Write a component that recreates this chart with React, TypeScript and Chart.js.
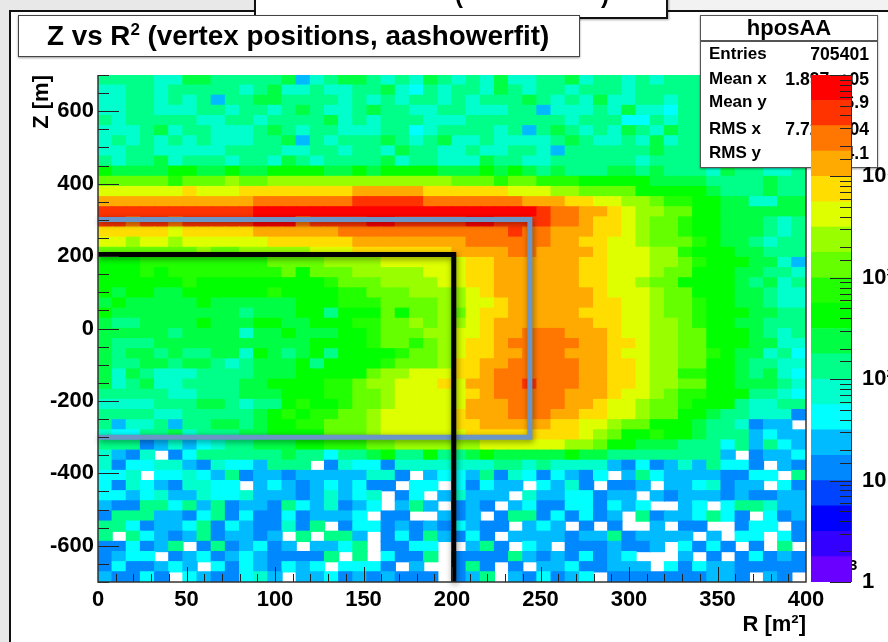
import React, { useEffect, useRef } from "react";
import { Chart, registerables } from "chart.js";

Chart.register(...registerables);

// Heat-map cell levels, one string per Z row (top to bottom), one base-20 digit per R bin; "." = empty bin.
const rowsUpperHalo = [
  "8888 77 99 88888 9 5 7 8 99 8 7  8 7 9 8 7 8 7 9 77 88 9 7 88 7 8 7 8 8  88888888",
  "77 88 7 88888 7 8 9 77 8 77 8 8 9  7 6 8 7 88 7 9 8 7 88 7 888 7 888 8  88888888",
  "77 88 7 8 7 8 5 88 99 8888 7 8 7 8  7 88 7 8 7 888 9 8 7 8 7 9 77 88 7 8 88888888",
  "77 88 777 88 7 88 7 8 9 8 77 8 9 8  8 77 88 777 88 5 777 8 7 9 77 6 8 88888888",
  "8 7 88888 77 88 7 8888 9 7 8 7 8  88 777 8888888 7 888 66 8 7 8 88888888",
  "777 8 9 7 88 777 8 9 8 7 88 777 8  8 6 7 8888 7 8 5 8 9 8 7 8 7 9 8 7 9 8 88888888",
  "7 8 7 8 7 8 7 8 777 88 9 5 8 7 888 9  8 7 8 9 77 8 7777 8 9 8 77 8 7 9 7 8 88888888",
  "77 88 77777 8888 77 88 7 88 7  9 88 77 8 77 88 7 5 888888 9 8 8 88888888",
  "8 7 88 9 7 888 7 88 7 9 8 7 8888 9  7 88 777 9 88 77 888888 7 88 8 88888888",
  "a 9999 aa 99 a 99 aaaa 99 a 9 a  aaa 999 a 9 a 9 8 9 888 99 8 9 8 8  8 7 9 88 77 8",
];

const rowsUpperBand = [
  "ccccc b ccc d cc ddddddddd dddd ccc b cc bbb aaaaa 9999 8888988",
  "eeeeee f eee ffffffff ggggg ffffff eee dd cccc aaaaa 9 888 9 88",
  "ggggggggggg hhhhhhh iiiii hhhhhhh ggg ff ee dd c bb aa 99 77 99",
  "iiiiiiiiiii jjjjjjjjjjjjjjjjjjjj i hh gg f e dd cc aa 999999",
  "ii h ii h iiiii jjj h iiii jj iiiii jj iiii hh g ff e d cc b aa 999 8 7 8",
  "fffff e fffff gggggg hhhhhhhhhhhh i hh ggg ff e d cc b aa 999 8 7 8",
  "ee d ee d eeeeee ffffff gggggggg hhhhhh gg ff ee d cc c ba 99 8 7 88",
  "ccccccc d cc ddddd eee fffffff gggg hh gggg f eee d d b aa a 99 888",
];

const rowsTargetBody = [
  "aaa bbbbbbbbb cccc dddd eeeeee ff gggggg ff eee dd c b aaa 99 7 5",
  "aaa b a bbbbbbbb c a ccc ddddd eee ff gggggg ff eee d cc aaa 99 88 77",
  "aaaaaa b aaaaaaaaa b ccc dddd e e ff gggggg ff ee d cc a aa a 9 8 9 7 8",
  "a 9 aa 99 aaaaaa b aaaa bb ccc dddd e f ggggggg f eee d cc aaa 9 9 8 77",
  "9 a 99999 a 999999 aaa bbb cccc d d ee f gggggg ff e e d cc b aa 99 8 77",
  "a 999999999 8 999 aa 8 aaa c a cc d c e ff ggggg f ff e e d cc b aaa 99 88",
  "9 88 9999 a 999 aa 99 aaa bb c c d c d d e f ggggggg ff e e dd c b aa 99 888",
  "99999 8 9999 7 99 a 999 aa b ccc dd e e f gg hhh ggg f ee dd cc aaa 9 8 7 8",
  "9 888 99999999999 aaaa b cc b c d e ff g hhhhh gg f f e dd cc aaa 99 7 7",
  "9 8 99 8 9 88 99 7 a 9 8 9 a 8 aaa a b cc d e f f gg hhh ggg f ee dd cc b a9 9 7 8 6",
  "9 88 99 8 99 8 7 8 999 a 8 aaaa b ccc d f f gg hhhhh gg f f e dd cc a a 9 88 77",
  "9 7 9 8 777 8888 999 aaaaa c dd eee ff g hhhhhh gg f f e dd b b a a 9 8 9 7 6",
  "9 7 8 9 77 8888 99 aaaa bb c dd eee f e gg hh i hhh gg ff e dd cc aa 99 9 8 7",
  "88888 77 888 999 aaa bb cc d eeee e f g hhhhh ggg f ee d c bb aaa 88 7 6",
  "7777 8 88 99 8 7 88 a b aa b cc d eeee e gg g hhhh gg f e e d cc ba aa 8 77 88",
  "8888 77 88888 9 a b a bb cc d eeeee f ggg hhh gg ff e e d cc aa 9 88 777 4",
  "8 5 77 8 5 88 99 8 9 aa bb cc c d eeeee f f ggggg ff ee d c c aa a9 88 7 4 55",
  "7 66 8 8 9 7 888 99 aaa a ccc d eeeeee ffffffff e d c aa b aa 9 888 5 6 55",
];

const rowsLowerBackground = [
  "8 88 4 5 7 5 6 7 88 999 aa bbb cc dddddd eeeeee dd c a a 999 888 6 8 5 8 6 5",
  "7 5 4 7 . 4 6 888888 9 8 8 6 88 9 a 88 a 88 9 a 99999 a 99 888 88 888 5 . 4 55 6",
  "7 4 66 77 5 4 7 66 5 88 8 . 4 7 66 4 7777 777 88 7 8 7777 5 4 6 4 5 7 5 8 66 4 . 5 4",
  "6 6 7 . 66 7 6 5 8 4 55 4 5 5555 77 4 . 5 66 5 8 4 7 6 4 6 5 4 6 . 5 8 6 5555 44 66 . 8",
  "6 4 7 6 5 4 77 6 6 . 5 6 5 4 5 6 5 6 44 . 66 . 6 4 6 55 . 6 5 7 4 . 44 5 . 55 6 7 4 55 . 6 4",
  "66 5 6 7 55 7 66 7 555 4 5 7 5 6 7 . 4 6 . 5 7 555 . 7 55 66 4 55 . 5 4 555 4 5 44 55",
  "5 44 88 6 8 5 8 4 55 4 8 6 5 7 4 5 6 . 5 8 5 . 4 5 4 . 5 6 44 66 4 6 5 6 .. 5 6 . 6 88 7 55",
  "4 888 55 4 6 8 4 6 44 6 4 555 6 . 44 .. 5 4 5 . 4 88 4 6 4 6 4 5 . 8 4 55 6 8 6 4 . 6 4 5",
  "88 6 4 55 6 8 4 6 5 44 7 4 8 . 4 66 4 5 4 5 4 6 5 44 . 5 6 5 . 4 . 4 .. 5 . 44 .. 4 66 . 4",
  "8 . 8 6 5 4 5 8 4 55 4 5 . 8 . 88 5 . 4 6 4 8 5 4 6 4 . 5555 4 55 8 4 5555 . 5 . 66 . 6 4",
  "44 6 4 5 8 . 4 8 4 5 6 4 5 . 55 6 8 . 44 66 . . 5 8 4 . 6 5 . 44 4 5 44 5 . 6 4 6 4 . 4 . 8 .",
  "4 5 66 . 4 5 6 4 5 6 5 44 4 4 8 . 8 . 6 44 8 . 4444 8 5 4 5 4 6 4 5 6 ... 5 . 4 . 4 6 4 5 4",
  "4 6 44 5 6 5 . 6 4 6 5 4 6 5 6 . 666 4 . 5 .. 4 8 4 . 4 . 55 6 44 555 . 6 4 6 55 44444",
  "5 44 6 4 . 6 5 44 6 7 5 . 5 5 6 4 5 4 5 444 . 4 5 8 . 5 4 6 4 5 6 . 4444444 55 4 . 5 4 .",
];

// Colour of each level, from the colour bar's bottom (1) to its top (1e5).
const levelColors = [
  "#6a00ff", "#3300ff", "#0000ff", "#0044ff", "#0088ff",
  "#00bbff", "#00ffff", "#00ffcc", "#00ff88", "#00ff44",
  "#00ff00", "#22ff00", "#66ff00", "#99ff00", "#ddff00",
  "#ffdd00", "#ffaa00", "#ff7700", "#ff3300", "#ff0000",
];

const blueR = [0, 244, 244, 0];
const blueZ = [301, 301, -300, -300];
const blackR = [0, 201, 201];
const blackZ = [204, 204, -700];

const statsLabels = ["Entries", "Mean x", "Mean y", "RMS x", "RMS y"];
const statsValues = ["705401", "1.897e+05", "16.9", "7.721e+04", "304.1"];
const statsTops = [44, 69, 92, 119, 143];
const barLabels: Record<number, string> = { 1: "1", 10: "10", 100: "10²", 1000: "10³", 10000: "10⁴" };

const FONT = "'Liberation Sans', Arial, sans-serif";
const allRows = [...rowsUpperHalo, ...rowsUpperBand, ...rowsTargetBody, ...rowsLowerBackground].map((r) =>
  r.replace(/ /g, "")
);

function buildCells() {
  const data: any[] = [];
  const colors: string[] = [];
  const binR = 8;
  const binZ = 28;
  allRows.forEach((row, i) => {
    for (let j = 0; j < 50; j++) {
      const ch = row[j];
      if (!ch || ch === ".") continue;
      data.push({ x: (j + 0.5) * binR, y: [700 - (i + 1) * binZ, 700 - i * binZ] });
      colors.push(levelColors[parseInt(ch, 20)]);
    }
  });
  return { data, colors };
}

const innerTicks = {
  id: "innerTicks",
  beforeDatasetDraw(chart: any, args: any) {
    if (args.index < 2) {
      const c = chart.ctx;
      c.save();
      c.shadowColor = "rgba(0,0,0,0.45)";
      c.shadowBlur = 6;
      c.shadowOffsetX = 1;
      c.shadowOffsetY = 2;
    }
  },
  afterDatasetDraw(chart: any, args: any) {
    if (args.index < 2) chart.ctx.restore();
  },
  afterDatasetsDraw(chart: any) {
    const { ctx, scales, chartArea: a } = chart;
    ctx.save();
    ctx.strokeStyle = "#222";
    ctx.lineWidth = 1;
    ctx.beginPath();
    scales.x.ticks.forEach((t: any) => {
      const p = Math.round(scales.x.getPixelForValue(t.value)) + 0.5;
      const len = t.value % 50 === 0 ? 15 : 8;
      if (t.value > 0 && t.value < 400) {
        ctx.moveTo(p, a.bottom);
        ctx.lineTo(p, a.bottom - len);
      }
    });
    scales.y.ticks.forEach((t: any) => {
      const p = Math.round(scales.y.getPixelForValue(t.value)) + 0.5;
      const len = t.value % 200 === 0 ? 21 : 11;
      ctx.moveTo(a.left, p);
      ctx.lineTo(a.left + len, p);
    });
    ctx.stroke();
    ctx.strokeStyle = "#333";
    ctx.lineWidth = 1.5;
    ctx.beginPath();
    ctx.moveTo(a.left, a.top);
    ctx.lineTo(a.left, a.bottom);
    ctx.lineTo(a.right, a.bottom);
    ctx.lineTo(a.right, a.top);
    ctx.stroke();
    ctx.restore();
  },
};

const barTicks = {
  id: "barTicks",
  afterDatasetsDraw(chart: any) {
    const { ctx, scales, chartArea: a } = chart;
    ctx.save();
    ctx.strokeStyle = "#222";
    ctx.lineWidth = 1;
    ctx.beginPath();
    scales.y.ticks.forEach((t: any) => {
      const p = Math.round(scales.y.getPixelForValue(t.value)) + 0.5;
      const exp = Math.log10(t.value);
      const major = Math.abs(exp - Math.round(exp)) < 1e-6;
      ctx.moveTo(a.right, p);
      ctx.lineTo(a.right - (major ? 21 : 11), p);
    });
    ctx.stroke();
    ctx.strokeStyle = "#333";
    ctx.beginPath();
    ctx.moveTo(a.right + 0.5, a.top);
    ctx.lineTo(a.right + 0.5, a.bottom);
    ctx.stroke();
    ctx.restore();
  },
};

export default function App() {
  const mainRef = useRef<HTMLCanvasElement>(null);
  const barRef = useRef<HTMLCanvasElement>(null);

  useEffect(() => {
    const { data, colors } = buildCells();
    const tickFont = { family: FONT, size: 22, weight: "bold" as const };
    const main = new Chart(mainRef.current as any, {
      type: "bar",
      data: {
        datasets: [
          {
            type: "line",
            label: "black",
            data: blackR.map((x, i) => ({ x, y: blackZ[i] })),
            borderColor: "#000",
            borderWidth: 5,
            pointRadius: 0,
            borderJoinStyle: "miter",
            clip: false,
            order: 1,
          } as any,
          {
            type: "line",
            label: "blue",
            data: blueR.map((x, i) => ({ x, y: blueZ[i] })),
            borderColor: "#6a95c6",
            borderWidth: 5,
            pointRadius: 0,
            borderJoinStyle: "miter",
            clip: false,
            order: 2,
          } as any,
          {
            type: "bar",
            label: "hposAA",
            data,
            backgroundColor: colors,
            barPercentage: 1,
            categoryPercentage: 1,
            inflateAmount: 0.6,
            order: 3,
          } as any,
        ],
      },
      options: {
        responsive: false,
        animation: false,
        events: [],
        layout: { padding: { top: 75, right: 82, bottom: 0, left: 0 } },
        plugins: { legend: { display: false }, tooltip: { enabled: false }, title: { display: false } },
        scales: {
          x: {
            type: "linear",
            offset: false,
            min: 0,
            max: 400,
            grid: { display: false, drawTicks: false },
            border: { display: false },
            afterFit: (s: any) => { s.height = 60; },
            title: {
              display: true,
              text: "R [m²]",
              align: "end",
              color: "#000",
              font: tickFont,
              padding: { top: 0, bottom: 4 },
            },
            ticks: {
              stepSize: 10,
              autoSkip: false,
              maxRotation: 0,
              color: "#000",
              font: tickFont,
              padding: 5,
              callback: (v: any) => (Number(v) % 50 === 0 ? String(v) : ""),
            },
          },
          y: {
            type: "linear",
            min: -700,
            max: 700,
            grid: { display: false, drawTicks: false },
            border: { display: false },
            afterFit: (s: any) => { s.width = 98; },
            title: {
              display: true,
              text: "Z [m]",
              align: "end",
              color: "#000",
              font: tickFont,
              padding: { top: 29, bottom: 0 },
            },
            ticks: {
              stepSize: 50,
              autoSkip: false,
              color: "#000",
              font: tickFont,
              padding: 4,
              callback: (v: any) => (Number(v) % 200 === 0 ? String(v) : ""),
            },
          },
        },
      } as any,
      plugins: [innerTicks as any],
    });

    const bar = new Chart(barRef.current as any, {
      type: "bar",
      data: {
        labels: ["hposAA"],
        datasets: levelColors.map((c, i) => ({
          label: String(i),
          data: [[Math.pow(10, i / 4), Math.pow(10, (i + 1) / 4)]],
          backgroundColor: c,
          grouped: false,
          barPercentage: 1,
          categoryPercentage: 1,
        })) as any,
      },
      options: {
        responsive: false,
        animation: false,
        events: [],
        layout: { padding: { top: 75, right: 0, bottom: 60, left: 5 } },
        plugins: { legend: { display: false }, tooltip: { enabled: false } },
        scales: {
          x: { display: false },
          y: {
            type: "logarithmic",
            position: "right",
            min: 1,
            max: 100000,
            grid: { display: false, drawTicks: false },
            border: { display: false },
            afterFit: (s: any) => { s.width = 37; },
            ticks: {
              autoSkip: false,
              color: "#000",
              font: tickFont,
              padding: 11,
              callback: (v: any) => barLabels[Number(v)] ?? "",
            },
          },
        },
      } as any,
      plugins: [barTicks as any],
    });

    return () => {
      main.destroy();
      bar.destroy();
    };
  }, []);

  const abs = (o: React.CSSProperties): React.CSSProperties => ({ position: "absolute", ...o });
  return (
    <div style={abs({ left: 0, top: 0, width: 888, height: 642, background: "#fff", overflow: "hidden", fontFamily: FONT, fontWeight: "bold", color: "#000", filter: "blur(0.4px)" })}>
      <div style={abs({ left: 0, top: 0, width: 254, height: 10, background: "#e8e8e8" })} />
      <div style={abs({ left: 666, top: 0, width: 222, height: 10, background: "#f2f2f2" })} />
      <div style={abs({ left: 0, top: 0, width: 9, height: 642, background: "#e8e8e8" })} />
      <div style={abs({ left: 9, top: 10, width: 2, height: 632, background: "#111" })} />
      <div style={abs({ left: 9, top: 10, width: 879, height: 2, background: "#111" })} />

      <canvas ref={mainRef} width={888} height={642} style={abs({ left: 0, top: 0 })} />

      <div style={abs({ left: 254, top: -2, width: 410, height: 17, background: "#fff", border: "2px solid #111", boxShadow: "1px 1px 2px rgba(0,0,0,.35)", overflow: "hidden", fontSize: 24 })}>
        <span style={abs({ left: 199, top: -19 })}>(</span>
        <span style={abs({ left: 345, top: -19 })}>)</span>
      </div>
      <div style={abs({ left: 18, top: 15, width: 560, height: 40, background: "#fff", border: "1.5px solid #444", boxShadow: "0 1px 2px rgba(0,0,0,.4)" })}>
        <span style={abs({ left: 28, top: 3, fontSize: 27.8, whiteSpace: "nowrap", lineHeight: "34px" })}>
          Z vs R<sup style={{ fontSize: 17, lineHeight: 0, verticalAlign: "10px" }}>2</sup> (vertex positions, aashowerfit)
        </span>
      </div>

      <div style={abs({ left: 700, top: 15, width: 176, height: 151, background: "#fff", border: "1.5px solid #555", boxShadow: "0 1px 2px rgba(0,0,0,.4)" })} />
      <div style={abs({ left: 700, top: 40, width: 178, height: 1.5, background: "#555" })} />
      <div style={abs({ left: 700, top: 16, width: 178, textAlign: "center", fontSize: 22, lineHeight: "24px" })}>hposAA</div>
      {statsLabels.map((label, i) => (
        <React.Fragment key={label}>
          <div style={abs({ left: 709, top: statsTops[i], fontSize: 17, lineHeight: "20px" })}>{label}</div>
          <div style={abs({ right: 888 - 869, top: statsTops[i], fontSize: 17.6, lineHeight: "20px" })}>{statsValues[i]}</div>
        </React.Fragment>
      ))}
      <div style={abs({ left: 849, top: 557, fontSize: 15, lineHeight: "16px" })}>3</div>

      <canvas ref={barRef} width={82} height={642} style={abs({ left: 806, top: 0 })} />
    </div>
  );
}
